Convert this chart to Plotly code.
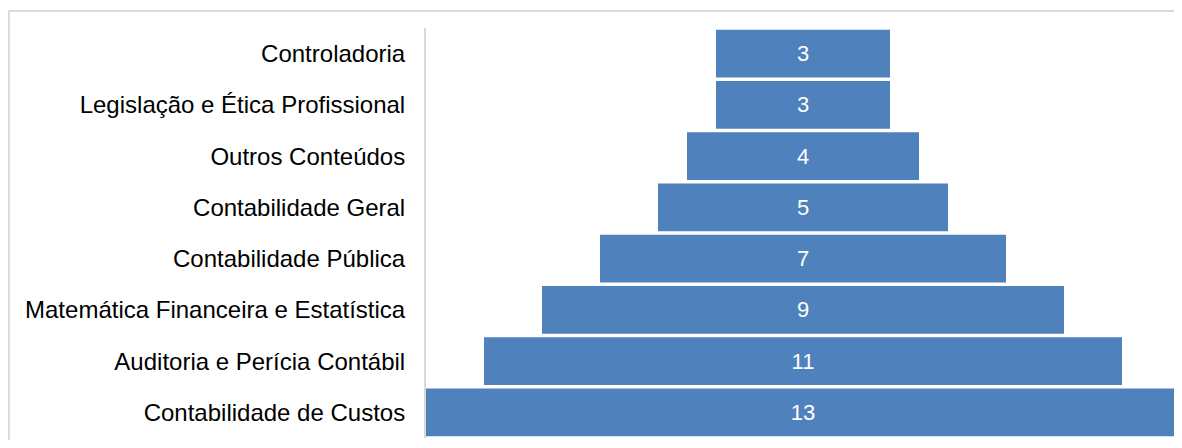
import plotly.graph_objects as go

categories = [
    "Controladoria",
    "Legislação e Ética Profissional",
    "Outros Conteúdos",
    "Contabilidade Geral",
    "Contabilidade Pública",
    "Matemática Financeira e Estatística",
    "Auditoria e Perícia Contábil",
    "Contabilidade de Custos",
]
values = [3, 3, 4, 5, 7, 9, 11, 13]

# page body has an 8px margin, so the figure is drawn 8px right/down
W, H = 1174, 432
ML, MR, MT, MB = 418, 2, 20, 1.5
pw = W - ML - MR
ph = H - MT - MB

def px_x(p):
    return (p - ML) / pw

def px_y(q):
    return (H - MB - q) / ph

fig = go.Figure(go.Funnel(
    y=categories,
    x=values,
    textinfo="value",
    textposition="inside",
    insidetextanchor="middle",
    textfont=dict(family="Liberation Sans, Arial, sans-serif", size=22, color="white"),
    marker=dict(color="#4f81bd", line=dict(width=0)),
    connector=dict(visible=False),
    hoverinfo="skip",
))

fig.update_layout(
    width=W, height=H,
    margin=dict(l=ML, r=MR, t=MT, b=MB),
    paper_bgcolor="white",
    plot_bgcolor="white",
    funnelgap=0.064,
    showlegend=False,
    font=dict(family="Liberation Sans, Arial, sans-serif", size=24, color="black"),
    xaxis=dict(visible=False, range=[-6.5, 6.5], fixedrange=True),
    yaxis=dict(
        showline=True, linecolor="#d9d9d9", linewidth=2,
        showgrid=False, zeroline=False,
        ticks="", ticklabelstandoff=14,
        tickfont=dict(size=24, color="black"),
        fixedrange=True,
    ),
    shapes=[
        dict(type="line", xref="paper", yref="paper",
             x0=px_x(0.8), x1=px_x(W + 20), y0=px_y(3), y1=px_y(3),
             line=dict(color="#d9d9d9", width=2)),
        dict(type="line", xref="paper", yref="paper",
             x0=px_x(0.8), x1=px_x(0.8), y0=px_y(3), y1=px_y(H + 20),
             line=dict(color="#d9d9d9", width=2)),
    ],
)

fig.write_html("out.html")
